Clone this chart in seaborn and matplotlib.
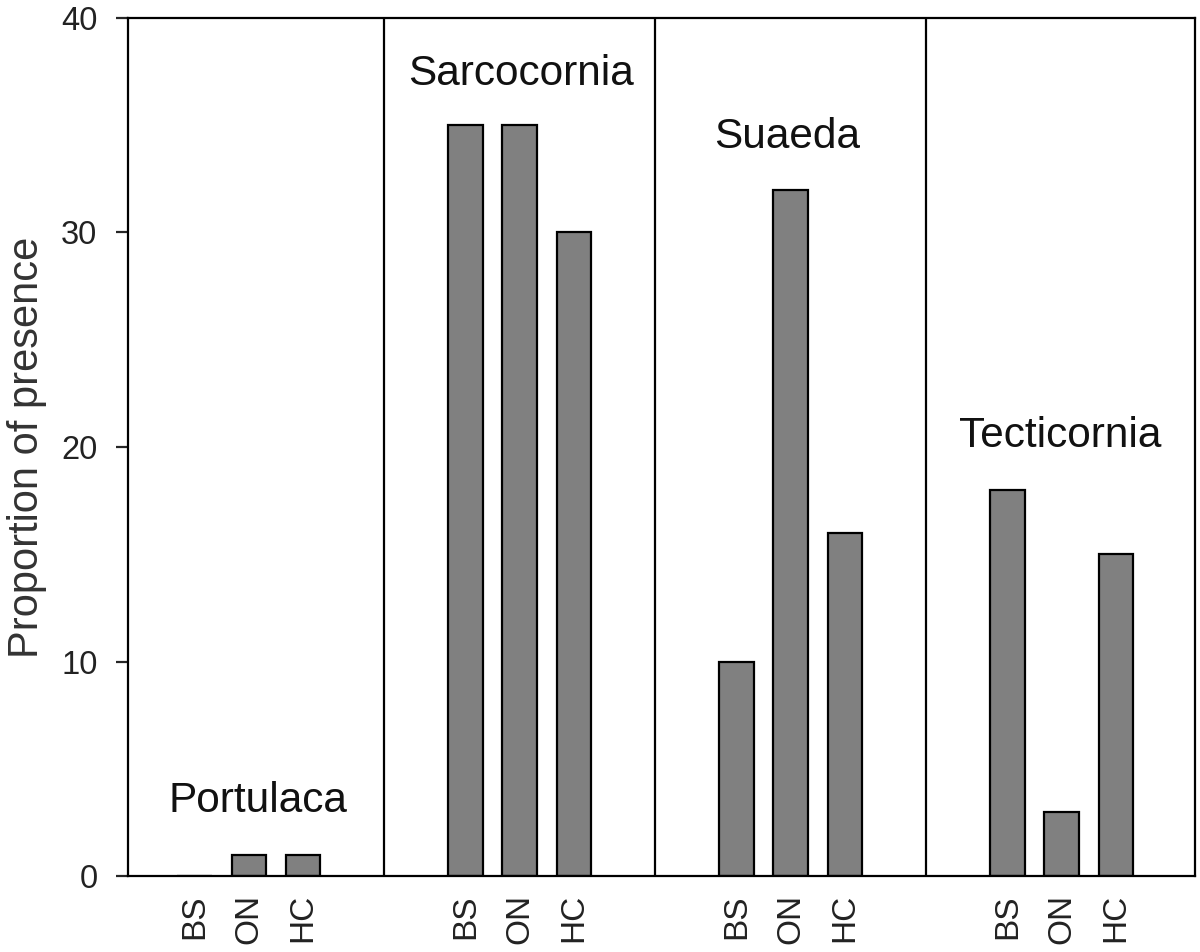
import numpy as np
import pandas as pd
import matplotlib
matplotlib.use("Agg")
import matplotlib.pyplot as plt
import seaborn as sns

# ── Data ───────────────────────────────────────────────────
genera      = ["Portulaca", "Sarcocornia", "Suaeda", "Tecticornia"]
habitats    = ["BS", "ON", "HC"]
portulaca   = [0, 1, 1]
sarcocornia = [35, 35, 30]
suaeda      = [10, 32, 16]
tecticornia = [18, 3, 15]
values      = [portulaca, sarcocornia, suaeda, tecticornia]

# ── Layout ─────────────────────────────────────────────────
GROUP_STEP = 5                       # slots per genus block
label_xy   = [(1.17, 3.5), (6.02, 37.4), (10.93, 34.45), (15.97, 20.5)]

rows = []
for g, genus in enumerate(genera):
    for j, hab in enumerate(habitats):
        rows.append({"genus": genus, "habitat": hab,
                     "pos": g * GROUP_STEP + j, "value": values[g][j]})
df = pd.DataFrame(rows)

sns.set_style("ticks")
plt.rcParams["font.family"] = ["Liberation Sans", "DejaVu Sans"]

fig, ax = plt.subplots(figsize=(12, 9.52), dpi=100)
fig.subplots_adjust(left=128/1200, right=1195/1200, top=1 - 18/952, bottom=1 - 876/952)

sns.barplot(data=df, x="pos", y="value", native_scale=True, width=0.64,
            color="#808080", saturation=1, edgecolor="black", linewidth=1.6,
            errorbar=None, ax=ax)

# block separators
for g in range(1, len(genera)):
    ax.axvline(g * GROUP_STEP - 1.5, color="black", lw=1.6)

# genus labels
for genus, (x, y) in zip(genera, label_xy):
    ax.text(x, y, genus, ha="center", va="center", fontsize=30.5, color="#111111")

ax.set_xlim(-1.23, 18.46)
ax.set_ylim(0, 40)
ax.set_yticks([0, 10, 20, 30, 40])
ax.tick_params(axis="y", length=9, width=1.6, direction="out", pad=13,
               labelsize=23.5, labelcolor="#222222")

ax.set_xticks(df["pos"], df["habitat"], rotation=90)
ax.tick_params(axis="x", which="major", length=0, pad=13, labelsize=24,
               labelcolor="#222222")
ax.set_xticks([g * GROUP_STEP + 1 for g in range(len(genera))], minor=True)
ax.tick_params(axis="x", which="minor", length=7, width=1.6, direction="out")

ax.set_xlabel("")
ax.set_ylabel("Proportion of presence", fontsize=30, color="#333333", labelpad=10)

for side in ["top", "right", "left", "bottom"]:
    ax.spines[side].set_visible(True)
    ax.spines[side].set_color("black")
    ax.spines[side].set_linewidth(1.6)

fig.savefig("out.png", dpi=100)
